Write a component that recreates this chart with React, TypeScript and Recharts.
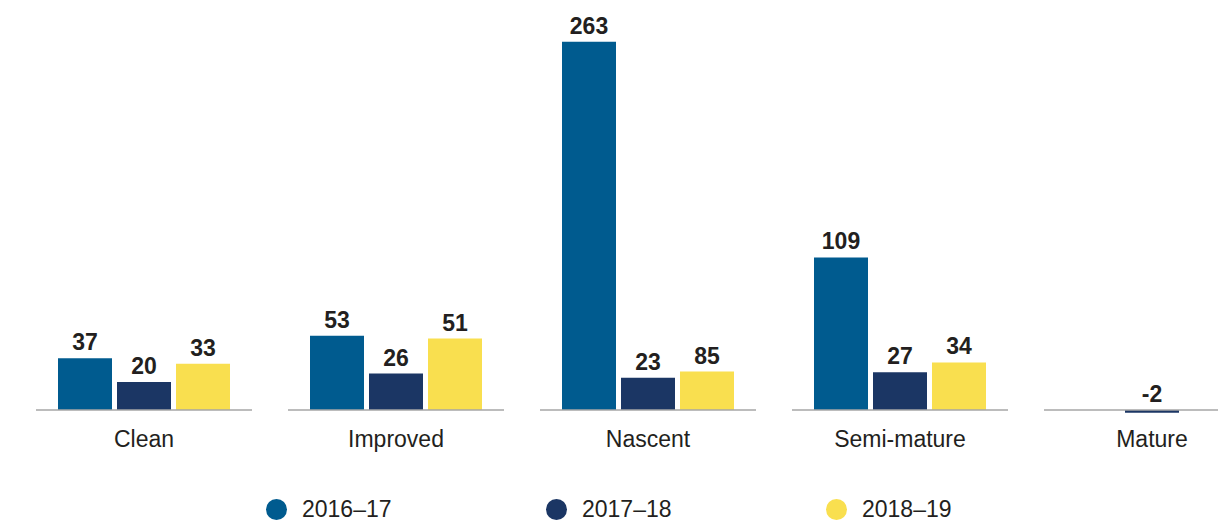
import { BarChart, Bar, XAxis, YAxis, LabelList } from "recharts";

const categories = ["Clean", "Improved", "Nascent", "Semi-mature", "Mature"];
const seriesNames = ["2016–17", "2017–18", "2018–19"];

// bar heights as drawn in the picture
const values1617 = [37, 53, 263, 109, null];
const values1718 = [20, 26, 23, 27, -2];
const values1819 = [33, 51, 27.5, 34, null];

// printed labels (the Nascent 2018–19 bar is labelled 85 but drawn much shorter)
const labels1617 = ["37", "53", "263", "109", null];
const labels1718 = ["20", "26", "23", "27", "-2"];
const labels1819 = ["33", "51", "85", "34", null];

const colors = ["#005b8f", "#1b3664", "#f9df4f"];
const textColor = "#231f20";
const font = "'Liberation Sans', Arial, Helvetica, sans-serif";

const data = categories.map((cat, i) => ({
  category: cat,
  s1617: values1617[i],
  s1718: values1718[i],
  s1819: values1819[i],
  l1617: labels1617[i],
  l1718: labels1718[i],
  l1819: labels1819[i],
}));

// baseline segment under each group + category name
function CategoryTick(props: any) {
  const { x, y, payload } = props;
  return (
    <g>
      <line x1={x - 108} x2={x + 108} y1={y - 7} y2={y - 7} stroke="#a6a6a6" strokeWidth={1.5} />
      <text x={x} y={y + 30} textAnchor="middle" fontSize={23} fontFamily={font} fill={textColor}>
        {payload.value}
      </text>
    </g>
  );
}

function ValueLabel(props: any) {
  const { x, y, width, height, value } = props;
  if (value === null || value === undefined) return null;
  const top = Math.min(y, y + height);
  return (
    <text
      x={x + width / 2}
      y={top - 8}
      textAnchor="middle"
      fontSize={23}
      fontWeight="bold"
      fontFamily={font}
      fill={textColor}
    >
      {value}
    </text>
  );
}

export default function App() {
  const keys = ["1617", "1718", "1819"];
  return (
    <div style={{ position: "relative", width: 1218, height: 513, overflow: "hidden" }}>
      <BarChart
        width={1270}
        height={513}
        data={data}
        margin={{ top: 10, right: 0, bottom: 0, left: 10 }}
        barSize={54}
        barGap={5}
      >
        <XAxis
          dataKey="category"
          axisLine={false}
          tickLine={false}
          tickSize={0}
          tickMargin={0}
          interval={0}
          height={104}
          tick={<CategoryTick />}
        />
        <YAxis hide domain={[-5, 280]} />
        {keys.map((k, i) => (
          <Bar key={k} dataKey={"s" + k} name={seriesNames[i]} fill={colors[i]} isAnimationActive={false}>
            <LabelList dataKey={"l" + k} content={<ValueLabel />} />
          </Bar>
        ))}
      </BarChart>
      <div
        style={{
          position: "absolute",
          left: 258,
          top: 488,
          display: "flex",
          fontFamily: font,
          fontSize: 23,
          color: textColor,
        }}
      >
        {seriesNames.map((name, i) => (
          <div key={name} style={{ display: "flex", alignItems: "center", width: 280, height: 26 }}>
            <span
              style={{
                display: "inline-block",
                width: 21,
                height: 21,
                borderRadius: "50%",
                background: colors[i],
                marginRight: 15,
              }}
            />
            <span>{name}</span>
          </div>
        ))}
      </div>
    </div>
  );
}
